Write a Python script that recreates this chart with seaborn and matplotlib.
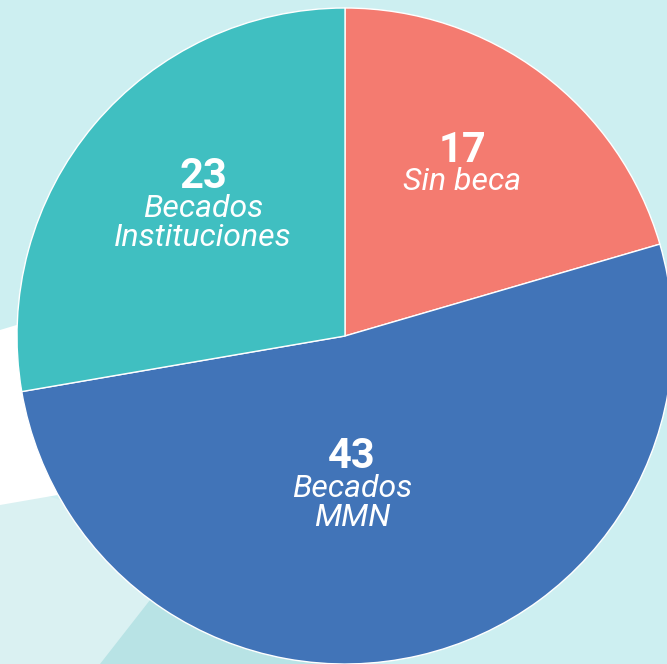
import matplotlib
matplotlib.use("Agg")
import matplotlib.pyplot as plt
from matplotlib.patches import Polygon
import seaborn as sns

categories = ["Sin beca", "Becados MMN", "Becados Instituciones"]
counts = [17, 43, 23]
label_lines = ["Sin beca", "Becados\nMMN", "Becados\nInstituciones"]
colors = ["#F47B70", "#4174B8", "#40BFC1"]

sns.set_theme(style="white")
plt.rcParams["font.family"] = ["Roboto", "DejaVu Sans"]

W, H = 667, 664
fig = plt.figure(figsize=(W / 100, H / 100), dpi=100)
fig.patch.set_facecolor("#CDEFF1")

# soft background swooshes (pixel coords, y down)
bg = fig.add_axes([0, 0, 1, 1])
bg.set_xlim(0, W)
bg.set_ylim(H, 0)
bg.axis("off")
bg.add_patch(Polygon([(0, 480), (330, 590), (330, 664), (0, 664)], color="#DAF1F2", lw=0))
bg.add_patch(Polygon([(0, 330), (40, 318), (75, 492), (0, 505)], color="white", lw=0))
bg.add_patch(Polygon([(100, 664), (150, 600), (330, 630), (330, 664)], color="#B8E3E5", lw=0))

ax = fig.add_axes([0, 0, 1, 1])
cx, cy, r = 345, H - 336, 328
ax.pie(
    counts,
    colors=colors,
    startangle=90,
    counterclock=False,
    center=(cx, cy),
    radius=r,
    wedgeprops=dict(edgecolor="white", linewidth=1.0),
    frame=True,
)
ax.set_xlim(0, W)
ax.set_ylim(0, H)
ax.set_aspect("equal")
ax.axis("off")

label_pos = [(462, 150), (352, 457), (203, 177)]
for (x, y), n, txt in zip(label_pos, counts, label_lines):
    ax.text(x, H - y, str(n), color="white", fontsize=30, fontweight="bold",
            ha="center", va="center")
    ax.text(x, H - y - 17, txt, color="white", fontsize=23, fontstyle="italic",
            ha="center", va="top", linespacing=0.98)

fig.savefig("out.png", dpi=100)
